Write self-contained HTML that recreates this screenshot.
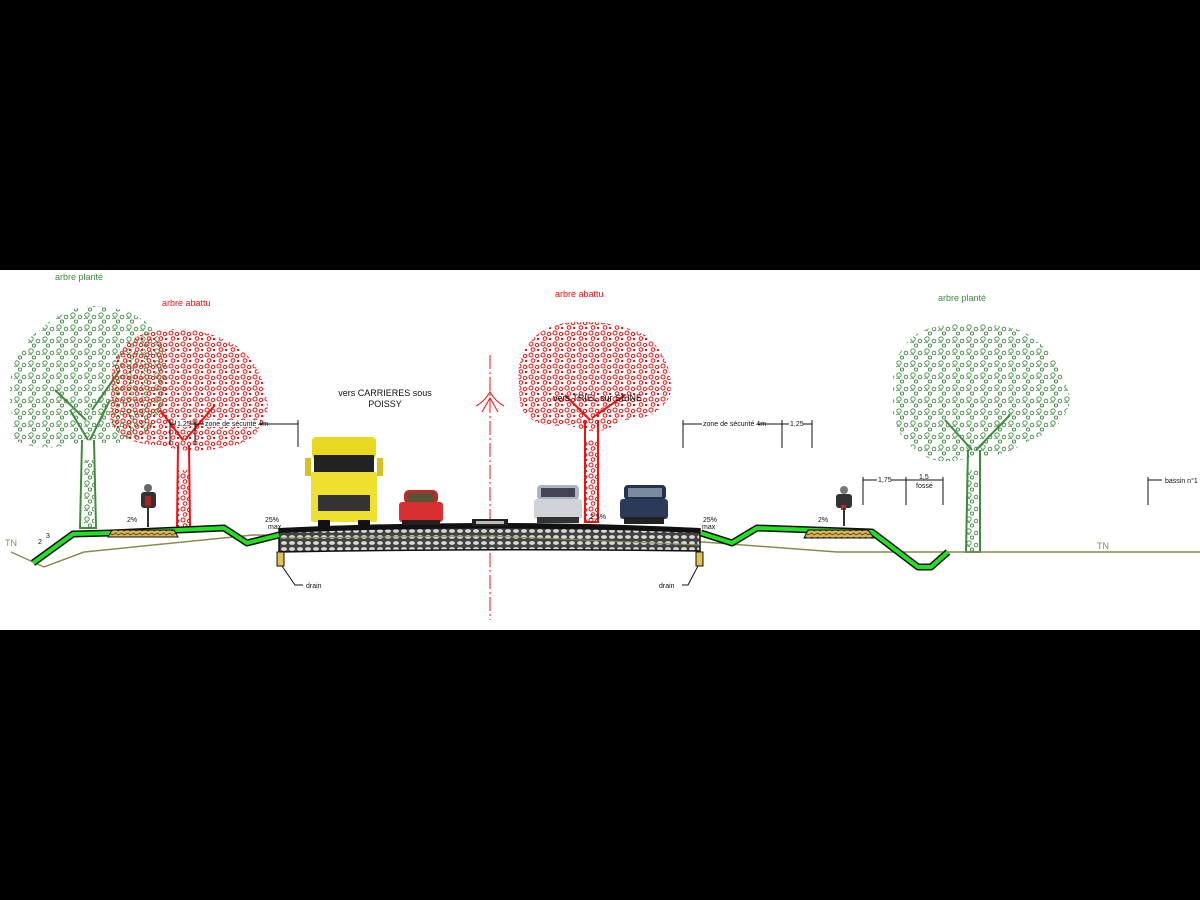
<!DOCTYPE html>
<html><head><meta charset="utf-8"><style>
html,body{margin:0;padding:0;background:#000;width:1200px;height:900px;overflow:hidden}
svg{display:block}
text{font-family:"Liberation Sans",sans-serif}
</style></head><body>
<svg width="1200" height="900" viewBox="0 0 1200 900" xmlns="http://www.w3.org/2000/svg">
<defs>
<pattern id="pg" width="14" height="12" patternUnits="userSpaceOnUse">
<circle cx="3" cy="3" r="2.2" fill="none" stroke="#3f8a3f" stroke-width="0.9"/>
<circle cx="10" cy="5" r="1.8" fill="none" stroke="#3f8a3f" stroke-width="0.9"/>
<circle cx="6" cy="9.5" r="1.6" fill="none" stroke="#3f8a3f" stroke-width="0.9"/>
<path d="M0 7 q2 -2 4 0" fill="none" stroke="#3f8a3f" stroke-width="0.8"/>
</pattern>
<pattern id="pr" width="12" height="11" patternUnits="userSpaceOnUse">
<circle cx="3" cy="3" r="2" fill="none" stroke="#f01010" stroke-width="1"/>
<circle cx="9" cy="4" r="1.7" fill="none" stroke="#f01010" stroke-width="1"/>
<circle cx="5" cy="8.5" r="1.8" fill="none" stroke="#f01010" stroke-width="1"/>
<rect x="9" y="8" width="2" height="2" fill="#f01010"/>
</pattern>
<pattern id="gravel" width="8" height="6" patternUnits="userSpaceOnUse">
<rect width="8" height="6" fill="#444"/>
<ellipse cx="4" cy="3" rx="3.2" ry="2.2" fill="#d8d8d8" stroke="#222" stroke-width="0.5"/>
</pattern>
<pattern id="sand" width="6" height="4" patternUnits="userSpaceOnUse">
<rect width="6" height="4" fill="#d8b55a"/>
<path d="M0 2 l2 -1 l2 2 l2 -1" stroke="#3a2a00" stroke-width="0.7" fill="none"/>
</pattern>
</defs>
<rect x="0" y="0" width="1200" height="900" fill="#000"/>
<rect x="0" y="270" width="1200" height="360" fill="#fff"/>

<g>
<path d="M10 400 Q8 350 40 330 Q70 300 110 308 Q150 312 165 350 Q175 390 150 430 Q120 450 90 440 Q40 455 15 440 Z" fill="url(#pg)"/>
<path d="M82 440 L80 528 L96 528 L94 440 M88 440 L70 410 M90 440 L110 400 M86 420 L55 390 M92 410 L120 370" stroke="#3f8a3f" stroke-width="2" fill="none"/>
<rect x="82" y="460" width="12" height="68" fill="url(#pg)"/>
</g>
<g>
<path d="M112 370 Q120 335 160 330 Q200 325 235 345 Q265 365 268 410 Q260 445 220 448 Q190 455 160 445 Q120 445 110 420 Z" fill="url(#pr)"/>
<path d="M178 445 L177 528 L190 528 L189 445 M183 440 L160 410 M185 440 L215 405" stroke="#f01010" stroke-width="2" fill="none"/>
<rect x="177" y="470" width="13" height="58" fill="url(#pr)"/>
</g>
<g>
<path d="M518 370 Q525 330 565 323 Q610 318 645 335 Q675 360 670 395 Q660 420 620 420 Q600 440 570 425 Q530 430 520 405 Z" fill="url(#pr)"/>
<path d="M585 420 L585 522 L598 522 L598 420 M590 420 L565 395 M592 418 L625 395" stroke="#f01010" stroke-width="2" fill="none"/>
<rect x="585" y="440" width="13" height="82" fill="url(#pr)"/>
</g>
<g>
<path d="M893 380 Q895 340 930 328 Q975 318 1020 330 Q1060 350 1070 400 Q1065 430 1030 440 Q1000 460 975 455 Q940 470 915 450 Q890 430 893 400 Z" fill="url(#pg)"/>
<path d="M968 450 L966 552 L980 552 L980 450 M972 450 L945 420 M976 450 L1010 415" stroke="#3f8a3f" stroke-width="2" fill="none"/>
<rect x="966" y="470" width="14" height="82" fill="url(#pg)"/>
</g>

<text x="55" y="280" font-size="9" fill="#3f8a3f">arbre planté</text>
<text x="162" y="306" font-size="9" fill="#f01010">arbre abattu</text>
<text x="555" y="297" font-size="9" fill="#f01010">arbre abattu</text>
<text x="938" y="301" font-size="9" fill="#3f8a3f">arbre planté</text>
<text x="385" y="396" font-size="9" fill="#111" text-anchor="middle">vers CARRIERES sous</text>
<text x="385" y="407" font-size="9" fill="#111" text-anchor="middle">POISSY</text>
<text x="553" y="401" font-size="9" fill="#111">vers TRIEL sur SEINE</text>

<line x1="490" y1="355" x2="490" y2="620" stroke="#f01010" stroke-width="1" stroke-dasharray="14 3 2 3"/>
<path d="M476 406 Q484 402 490 392 Q496 402 504 406 M482 412 L490 398 L498 412" stroke="#f01010" fill="none" stroke-width="1"/>

<polyline points="11,552 44,567 84,552 253,535 490,537 703,542 837,552 1200,552" fill="none" stroke="#8a8a50" stroke-width="1.5"/>

<path d="M279 529 Q490 519 700 529 L700 551 Q490 548 279 552 Z" fill="url(#gravel)" stroke="#111" stroke-width="1.5"/>
<path d="M279 528 Q490 518 700 528 L700 533 Q490 524 279 533 Z" fill="#111"/>
<rect x="472" y="519" width="36" height="7" fill="#222"/>
<rect x="476" y="521" width="28" height="3" fill="#bbb"/>
<polyline points="279,538 490,536 700,545" fill="none" stroke="#8a8a50" stroke-width="1"/>

<polyline points="33,563 73,534 111,533 224,528 247,543 279,535" fill="none" stroke="#111" stroke-width="7" stroke-linejoin="round"/>
<polyline points="33,563 73,534 111,533 224,528 247,543 279,535" fill="none" stroke="#22e022" stroke-width="4" stroke-linejoin="round"/>
<polyline points="701,533 732,543 757,528 872,532 918,567 931,567 948,552" fill="none" stroke="#111" stroke-width="7" stroke-linejoin="round"/>
<polyline points="701,533 732,543 757,528 872,532 918,567 931,567 948,552" fill="none" stroke="#22e022" stroke-width="4" stroke-linejoin="round"/>
<polygon points="108,537 112,530 174,530 178,537" fill="url(#sand)" stroke="#111"/>
<polygon points="804,538 808,530 868,530 874,538" fill="url(#sand)" stroke="#111"/>

<rect x="277" y="552" width="7" height="14" fill="#e0c050" stroke="#111"/>
<polyline points="282,566 295,585 303,585" fill="none" stroke="#111"/>
<text x="306" y="588" font-size="7" fill="#111">drain</text>
<rect x="696" y="552" width="7" height="14" fill="#e0c050" stroke="#111"/>
<polyline points="698,566 688,585 682,585" fill="none" stroke="#111"/>
<text x="659" y="588" font-size="7" fill="#111">drain</text>

<g>
<rect x="312" y="437" width="64" height="22" rx="4" fill="#e8d820"/>
<rect x="314" y="455" width="60" height="20" fill="#222"/>
<rect x="311" y="472" width="66" height="50" rx="2" fill="#efe030"/>
<rect x="318" y="495" width="52" height="16" fill="#333"/>
<rect x="305" y="458" width="6" height="18" fill="#d8c020"/>
<rect x="377" y="458" width="6" height="18" fill="#d8c020"/>
<rect x="318" y="520" width="12" height="7" fill="#111"/>
<rect x="358" y="520" width="12" height="7" fill="#111"/>
</g>
<g>
<rect x="404" y="490" width="34" height="14" rx="5" fill="#c02828"/>
<rect x="408" y="493" width="26" height="9" fill="#553"/>
<rect x="399" y="502" width="44" height="20" rx="3" fill="#d83030"/>
<rect x="402" y="520" width="38" height="5" fill="#222"/>
</g>
<g>
<rect x="537" y="485" width="42" height="15" rx="4" fill="#aab4c4"/>
<rect x="541" y="488" width="34" height="9" fill="#445"/>
<rect x="534" y="499" width="48" height="20" rx="3" fill="#d0d4da"/>
<rect x="537" y="517" width="42" height="6" fill="#333"/>
</g>
<g>
<rect x="624" y="485" width="42" height="15" rx="4" fill="#24324e"/>
<rect x="628" y="488" width="34" height="9" fill="#7a8aa0"/>
<rect x="620" y="499" width="48" height="20" rx="3" fill="#2a3a58"/>
<rect x="624" y="517" width="40" height="7" fill="#222"/>
</g>
<g>
<circle cx="148" cy="488" r="4" fill="#666"/>
<rect x="141" y="492" width="15" height="16" rx="3" fill="#333"/>
<rect x="145" y="496" width="6" height="10" fill="#a22"/>
<rect x="147" y="508" width="2" height="19" fill="#333"/>
</g>
<g>
<circle cx="844" cy="490" r="4" fill="#777"/>
<rect x="836" y="494" width="16" height="14" rx="3" fill="#333"/>
<rect x="841" y="505" width="5" height="5" fill="#c22"/>
<rect x="843" y="508" width="2" height="18" fill="#333"/>
</g>

<g font-size="7" fill="#111">
<text x="127" y="522">2%</text>
<text x="265" y="522">25%</text><text x="268" y="529">max</text>
<text x="590" y="519">2,5%</text>
<text x="703" y="522">25%</text><text x="702" y="529">max</text>
<text x="818" y="522">2%</text>
<text x="38" y="544">2</text><text x="46" y="538">3</text>
</g>
<text x="5" y="546" font-size="9" fill="#8a8a50">TN</text>
<text x="1097" y="549" font-size="9" fill="#8a8a50">TN</text>

<g stroke="#111" stroke-width="1" fill="none">
<line x1="170" y1="424" x2="298" y2="424"/>
<line x1="170" y1="420" x2="170" y2="445"/><line x1="195" y1="420" x2="195" y2="445"/><line x1="298" y1="420" x2="298" y2="447"/>
<line x1="683" y1="424" x2="812" y2="424"/>
<line x1="683" y1="420" x2="683" y2="448"/><line x1="782" y1="420" x2="782" y2="448"/><line x1="812" y1="420" x2="812" y2="448"/>
<line x1="863" y1="480" x2="943" y2="480"/>
<line x1="863" y1="477" x2="863" y2="505"/><line x1="906" y1="477" x2="906" y2="505"/><line x1="943" y1="477" x2="943" y2="505"/>
<line x1="1148" y1="480" x2="1162" y2="480"/><line x1="1148" y1="477" x2="1148" y2="505"/>
</g>
<g font-size="7" fill="#111">
<rect x="176" y="420" width="14" height="7" fill="#fff"/><text x="177" y="426">1,25</text>
<rect x="204" y="420" width="56" height="7" fill="#fff"/><text x="205" y="426">zone de sécurité 4m</text>
<rect x="702" y="420" width="56" height="7" fill="#fff"/><text x="703" y="426">zone de sécurité 4m</text>
<rect x="789" y="420" width="14" height="7" fill="#fff"/><text x="790" y="426">1,25</text>
<rect x="877" y="476" width="14" height="7" fill="#fff"/><text x="878" y="482">1,75</text>
<text x="919" y="479">1,5</text><text x="916" y="488">fossé</text>
<text x="1165" y="483">bassin n°1</text>
</g>
</svg>
</body></html>
